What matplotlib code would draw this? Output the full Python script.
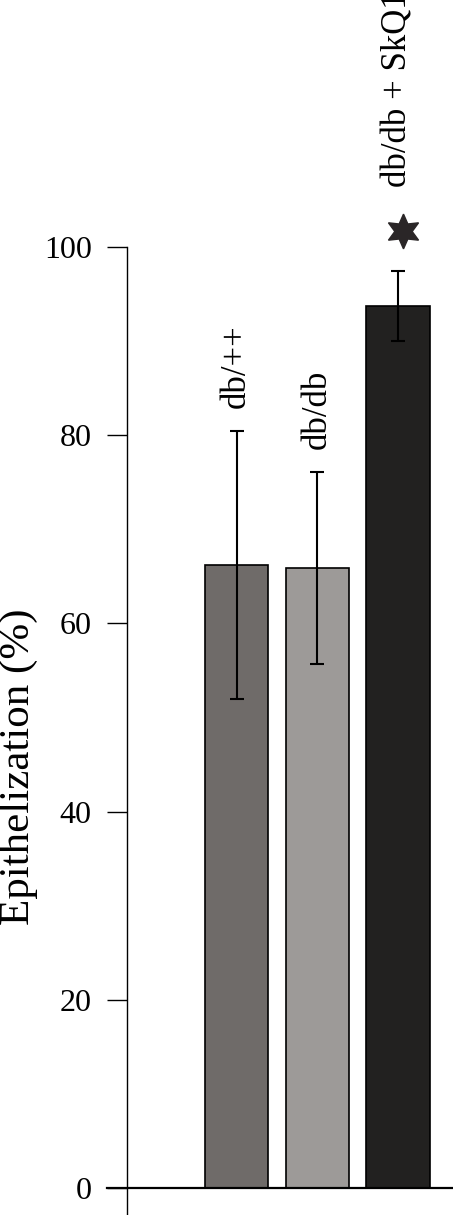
import matplotlib.pyplot as plt

groups = ['db/++', 'db/db', 'db/db + SkQ1']
values = [66.2, 65.9, 93.7]
errors = [14.2, 10.2, 3.7]
colors = ['#6f6b69', '#9d9a98', '#222120']
significant = [False, False, True]
yticks = [0, 20, 40, 60, 80, 100]

plt.rcParams['font.family'] = ['Liberation Serif', 'DejaVu Serif']

fig = plt.figure(figsize=(4.53, 12.15), dpi=100)
ax = fig.add_axes([127 / 453, 0, 326 / 453, 1])

x = list(range(len(groups)))
ax.bar(x, values, width=0.79, color=colors, edgecolor='black', linewidth=1.2, zorder=2)
ax.errorbar(x, values, yerr=errors, fmt='none', ecolor='black', elinewidth=1.5,
            capsize=4.7, capthick=1.5, zorder=3)

# labels above the error bars, star for significance
for xi, v, e, lab, sig in zip(x, values, errors, groups, significant):
    top = v + e + 2.45
    if sig:
        ax.plot(xi + 0.05, top + 1.85, marker=(6, 1, 0), markersize=25,
                color='#2a2627', clip_on=False, zorder=4)
        top = top + 6.5
    ax.text(xi, top, lab, rotation=90, ha='center', va='bottom', fontsize=25,
            clip_on=False)

ax.set_xlim(-1.352, 2.673)
ax.set_ylim(-2.87, 126.25)

ax.spines['top'].set_visible(False)
ax.spines['right'].set_visible(False)
ax.spines['bottom'].set_visible(False)
ax.spines['left'].set_linewidth(1.0)
ax.spines['left'].set_bounds(-2.87, 100)
ax.axhline(0, xmin=-20 / 326, xmax=1, color='black', linewidth=1.6, clip_on=False, zorder=5)

ax.set_xticks([])
ax.set_yticks(yticks)
ax.tick_params(axis='y', direction='out', length=14.4, width=1.0, pad=11, labelsize=23)

ax.set_ylabel('Epithelization (%)', fontsize=31)
ax.yaxis.set_label_coords(-0.272, (1215 - 767) / 1215)

fig.savefig('out.png', dpi=100)
